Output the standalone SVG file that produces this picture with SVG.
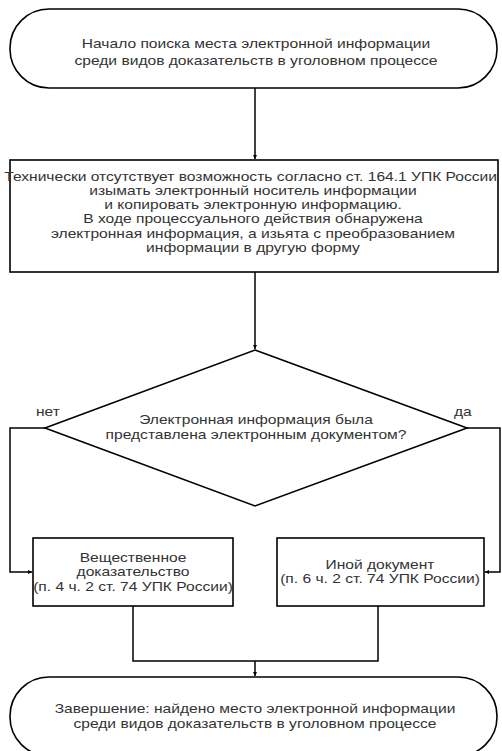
<svg xmlns="http://www.w3.org/2000/svg" width="502" height="751" viewBox="0 0 502 751">
<style>
.s{fill:#fff;stroke:#000;stroke-width:1.6}
.c{fill:none;stroke:#000;stroke-width:1.5}
text{font-family:"Liberation Sans",Arial,sans-serif;font-size:13px;fill:#333;text-anchor:middle}
.lbl{text-anchor:start}
</style>
<defs>
<marker id="a" viewBox="0 0 6 6" refX="6" refY="3" markerWidth="4" markerHeight="4" orient="auto" markerUnits="userSpaceOnUse"><path d="M0,0L6,3L0,6z" fill="#000"/></marker>
</defs>
<rect width="502" height="751" fill="#fff"/>
<g id="connectors">
<path class="c" d="M255,88V159" marker-end="url(#a)"/>
<path class="c" d="M255,272V349" marker-end="url(#a)"/>
<path class="c" d="M45,428H10V572H32" marker-end="url(#a)"/>
<path class="c" d="M467,428H500V572H485" marker-end="url(#a)"/>
<path class="c" d="M133,606V661H378V606"/>
<path class="c" d="M255,661V676" marker-end="url(#a)"/>
</g>
<g id="start">
<rect class="s" x="10" y="9" width="487" height="79" rx="39" ry="39"/>
<g transform="translate(256,0) scale(1.2,1)">
<text x="0" y="48">Начало поиска места электронной информации</text>
<text x="0" y="65">среди видов доказательств в уголовном процессе</text>
</g>
</g>
<g id="process">
<rect class="s" x="10" y="160" width="488" height="112"/>
<g transform="translate(253,0) scale(1.2,1)">
<text x="-2" y="181">Технически отсутствует возможность согласно ст. 164.1 УПК России</text>
<text x="0" y="195">изымать электронный носитель информации</text>
<text x="0" y="209">и копировать электронную информацию.</text>
<text x="0" y="223">В ходе процессуального действия обнаружена</text>
<text x="0" y="238">электронная информация, а изьята с преобразованием</text>
<text x="0" y="252">информации в другую форму</text>
</g>
</g>
<g id="decision">
<path class="s" d="M255,350L467,428L255,506L45,428Z"/>
<g transform="translate(256,0) scale(1.2,1)">
<text x="0" y="424">Электронная информация была</text>
<text x="0" y="439">представлена электронным документом?</text>
</g>
<g transform="translate(36,0) scale(1.2,1)">
<text class="lbl" x="0" y="416">нет</text>
</g>
<g transform="translate(454,0) scale(1.2,1)">
<text class="lbl" x="0" y="416">да</text>
</g>
</g>
<g id="physical">
<rect class="s" x="33" y="538" width="200" height="68"/>
<g transform="translate(133,0) scale(1.2,1)">
<text x="0" y="562">Вещественное</text>
<text x="0" y="576">доказательство</text>
<text x="0" y="591">(п. 4 ч. 2 ст. 74 УПК России)</text>
</g>
</g>
<g id="other">
<rect class="s" x="277" y="538" width="207" height="68"/>
<g transform="translate(380,0) scale(1.2,1)">
<text x="0" y="569">Иной документ</text>
<text x="0" y="583">(п. 6 ч. 2 ст. 74 УПК России)</text>
</g>
</g>
<g id="end">
<rect class="s" x="10" y="677" width="487" height="79" rx="39" ry="39"/>
<g transform="translate(255,0) scale(1.2,1)">
<text x="0" y="713">Завершение: найдено место электронной информации</text>
<text x="0" y="728">среди видов доказательств в уголовном процессе</text>
</g>
</g>
</svg>
